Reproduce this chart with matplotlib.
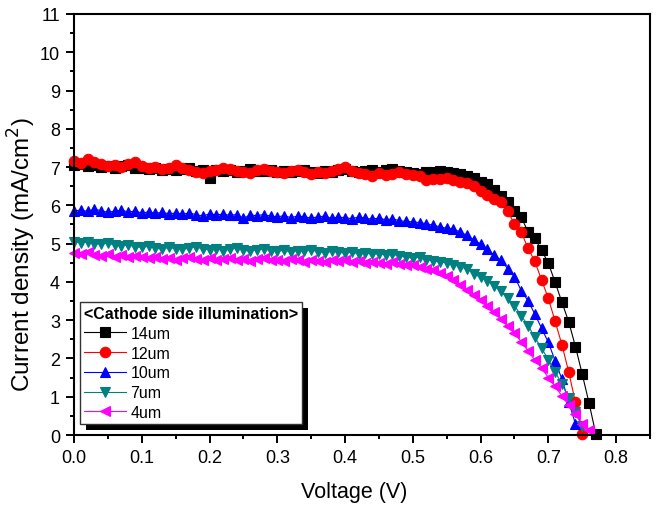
import matplotlib
matplotlib.use("Agg")
import matplotlib.pyplot as plt
from matplotlib.patches import Rectangle
from matplotlib.ticker import MultipleLocator

plt.rcParams['font.family'] = ['Liberation Sans', 'DejaVu Sans']

# voltage grid of the measurement (V)
voltage = [0.00, 0.01, 0.02, 0.03, 0.04, 0.05, 0.06, 0.07, 0.08, 0.09,
           0.10, 0.11, 0.12, 0.13, 0.14, 0.15, 0.16, 0.17, 0.18, 0.19,
           0.20, 0.21, 0.22, 0.23, 0.24, 0.25, 0.26, 0.27, 0.28, 0.29,
           0.30, 0.31, 0.32, 0.33, 0.34, 0.35, 0.36, 0.37, 0.38, 0.39,
           0.40, 0.41, 0.42, 0.43, 0.44, 0.45, 0.46, 0.47, 0.48, 0.49,
           0.50, 0.51, 0.52, 0.53, 0.54, 0.55, 0.56, 0.57, 0.58, 0.59,
           0.60, 0.61, 0.62, 0.63, 0.64, 0.65, 0.66, 0.67, 0.68, 0.69,
           0.70, 0.71, 0.72, 0.73, 0.74, 0.75, 0.76, 0.77]

# current density (mA/cm2) for each thickness
j_14um = [7.05, 7.08, 7.02, 7.05, 7.00, 7.03, 6.98, 7.02, 7.05, 6.98,
          6.97, 6.95, 6.98, 6.93, 6.96, 6.92, 6.95, 6.97, 6.90, 6.93,
          6.72, 6.92, 6.90, 6.93, 6.88, 6.91, 6.94, 6.89, 6.90, 6.92,
          6.88, 6.91, 6.86, 6.90, 6.93, 6.88, 6.85, 6.90, 6.87, 6.92,
          6.95, 6.90, 6.87, 6.91, 6.93, 6.88, 6.92, 6.95, 6.90, 6.88,
          6.85, 6.83, 6.88, 6.86, 6.90, 6.87, 6.85, 6.82, 6.78, 6.72,
          6.62, 6.56, 6.40, 6.25, 6.10, 5.85, 5.69, 5.31, 5.14, 4.83,
          4.49, 3.99, 3.47, 2.96, 2.31, 1.59, 0.84, 0.03]

j_12um = [7.15, 7.10, 7.22, 7.12, 7.08, 7.02, 7.05, 7.00, 7.08, 7.12,
          7.02, 6.98, 7.00, 6.95, 6.98, 7.05, 6.97, 6.92, 6.88, 6.85,
          6.90, 6.93, 6.98, 6.95, 6.90, 6.88, 6.85, 6.92, 6.95, 6.90,
          6.88, 6.85, 6.90, 6.92, 6.86, 6.83, 6.88, 6.85, 6.90, 6.95,
          7.00, 6.90, 6.85, 6.82, 6.78, 6.85, 6.80, 6.83, 6.86, 6.82,
          6.80, 6.78, 6.66, 6.70, 6.68, 6.72, 6.65, 6.62, 6.58, 6.50,
          6.38, 6.28, 6.17, 6.10, 5.85, 5.51, 5.30, 4.88, 4.54, 4.05,
          3.57, 2.97, 2.36, 1.65, 0.85, 0.03]

j_10um = [5.85, 5.88, 5.84, 5.90, 5.86, 5.82, 5.85, 5.87, 5.83, 5.85,
          5.80, 5.83, 5.79, 5.82, 5.78, 5.80, 5.77, 5.80, 5.76, 5.72,
          5.78, 5.75, 5.77, 5.74, 5.76, 5.66, 5.75, 5.73, 5.76, 5.72,
          5.70, 5.73, 5.68, 5.72, 5.70, 5.67, 5.70, 5.72, 5.66, 5.69,
          5.68, 5.65, 5.70, 5.66, 5.64, 5.67, 5.62, 5.65, 5.60, 5.58,
          5.57, 5.55, 5.52, 5.48, 5.44, 5.40, 5.38, 5.30, 5.22, 5.10,
          4.99, 4.86, 4.70, 4.56, 4.35, 4.14, 3.77, 3.51, 3.16, 2.79,
          2.42, 1.94, 1.46, 0.87, 0.29]

j_7um = [5.05, 5.02, 5.04, 5.00, 4.98, 5.02, 4.96, 4.94, 4.97, 4.92,
         4.90, 4.93, 4.88, 4.86, 4.90, 4.87, 4.85, 4.88, 4.92, 4.86,
         4.84, 4.87, 4.82, 4.85, 4.88, 4.83, 4.80, 4.84, 4.86, 4.82,
         4.80, 4.83, 4.78, 4.82, 4.80, 4.84, 4.79, 4.76, 4.80, 4.78,
         4.75, 4.78, 4.73, 4.76, 4.72, 4.74, 4.70, 4.72, 4.68, 4.65,
         4.62, 4.65, 4.58, 4.55, 4.52, 4.50, 4.45, 4.40, 4.34, 4.21,
         4.12, 4.03, 3.90, 3.75, 3.57, 3.38, 3.12, 2.86, 2.55, 2.27,
         1.97, 1.65, 1.33, 0.98, 0.59, 0.24]

j_4um = [4.75, 4.72, 4.78, 4.70, 4.68, 4.73, 4.66, 4.70, 4.64, 4.68,
         4.65, 4.62, 4.66, 4.60, 4.63, 4.58, 4.62, 4.65, 4.60, 4.57,
         4.62, 4.58, 4.60, 4.63, 4.57, 4.60, 4.55, 4.59, 4.62, 4.56,
         4.58, 4.55, 4.60, 4.57, 4.53, 4.58, 4.55, 4.52, 4.56, 4.54,
         4.56, 4.52, 4.55, 4.50, 4.53, 4.50, 4.48, 4.51, 4.47, 4.45,
         4.43, 4.40, 4.35, 4.30, 4.23, 4.15, 4.05, 3.93, 3.80, 3.67,
         3.53, 3.37, 3.21, 3.03, 2.86, 2.66, 2.44, 2.20, 1.96, 1.75,
         1.50, 1.27, 1.02, 0.78, 0.55, 0.30, 0.12]

labels = ['14um', '12um', '10um', '7um', '4um']
series = [j_14um, j_12um, j_10um, j_7um, j_4um]
colors = ['#000000', '#FF0000', '#0000FF', '#008080', '#FF00FF']
markers = ['s', 'o', '^', 'v', '<']
msizes = [6.5, 7.5, 7.5, 7.5, 7.5]

fig = plt.figure(figsize=(6.69, 5.06), dpi=100)
ax = fig.add_axes([0.1106, 0.1383, 0.861, 0.8321])

for j, lab, c, m, ms in zip(series, labels, colors, markers, msizes):
    ax.plot(voltage[:len(j)], j, color=c, lw=0.8, marker=m, ms=ms,
            mec=c, mew=0.8, label=lab, clip_on=False)

ax.set_xlim(0, 0.85)
ax.set_ylim(0, 11)
ax.xaxis.set_major_locator(MultipleLocator(0.1))
ax.xaxis.set_minor_locator(MultipleLocator(0.05))
ax.yaxis.set_major_locator(MultipleLocator(1))
ax.yaxis.set_minor_locator(MultipleLocator(0.5))
ax.tick_params(which='both', direction='out', top=False, right=False,
               width=1.4, labelsize=13, pad=4)
ax.tick_params(which='major', length=6)
ax.tick_params(which='minor', length=3)
for s in ax.spines.values():
    s.set_linewidth(1.5)

ax.set_xlabel('Voltage (V)', fontsize=15.5)
ax.set_ylabel('Current density (mA/cm$^2$)', fontsize=17.5)
ax.xaxis.set_label_coords(0.487, -0.11)
ax.yaxis.set_label_coords(-0.062, 0.432)

leg = ax.legend(loc='lower left', bbox_to_anchor=(0.0104, 0.026),
                borderaxespad=0, fontsize=11.5, title='<Cathode side illumination>',
                title_fontproperties={'weight': 'bold', 'size': 11.5},
                handlelength=2.6, handletextpad=0.3, labelspacing=0.3,
                borderpad=0.25, fancybox=False, edgecolor='#333333',
                framealpha=1)
leg._legend_box.align = 'left'
leg.get_frame().set_linewidth(1.0)
leg.set_zorder(6)

# hard black drop shadow behind the legend
fig.canvas.draw()
bb = leg.get_window_extent().transformed(ax.transAxes.inverted())
dx = 6 / (ax.get_window_extent().width)
dy = 6 / (ax.get_window_extent().height)
ax.add_patch(Rectangle((bb.x0 + dx, bb.y0 - dy), bb.width, bb.height,
                       transform=ax.transAxes, facecolor='black',
                       edgecolor='none', zorder=5.5, clip_on=False))

fig.savefig('out.png', dpi=100)
